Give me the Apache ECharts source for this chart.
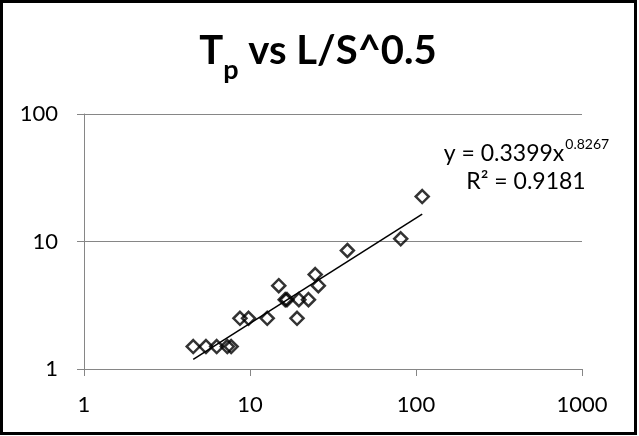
<!DOCTYPE html>
<html><head><meta charset="utf-8">
<script src="https://cdn.jsdelivr.net/npm/echarts@6/dist/echarts.min.js"></script>
<style>html,body{margin:0;padding:0;background:#fff}#c{width:639px;height:436px}</style>
</head><body><div id="c"></div>
<script>
// ---- data ----
const xValues = [4.55, 5.43, 6.3, 7.3, 7.7, 8.7, 9.8, 12.7, 19.2, 14.9, 16.3, 16.7, 19.7, 22.5, 24.7, 25.8, 38.6, 80.9, 109];
const yValues = [1.5, 1.5, 1.5, 1.5, 1.5, 2.5, 2.5, 2.5, 2.5, 4.5, 3.5, 3.5, 3.5, 3.5, 5.5, 4.5, 8.5, 10.5, 22.5];
const trendX = [4.55, 109];
const trendY = [1.19, 16.4];
const xTickLabels = ['1', '10', '100', '1000'];
const yTickLabels = ['1', '10', '100'];
const titleMain = 'T', titleSub = 'p', titleRest = ' vs L/S^0.5';
const eqMain = 'y = 0.3399x', eqSup = '0.8267', r2Text = 'R² = 0.9181';

// ---- layout helpers ----
const FONT = 'Lato';
const cv = document.createElement('canvas').getContext('2d');
function tw(text, size, weight) { cv.font = (weight || 'normal') + ' ' + size + 'px ' + FONT; return cv.measureText(text).width; }

const T_SIZE = 40, T_SUB = 27;
const wT = tw(titleMain, T_SIZE, 'bold'), wP = tw(titleSub, T_SUB, 'bold'), wR = tw(titleRest, T_SIZE, 'bold');
const titleX0 = 318 - (wT + wP + wR) / 2;

const EQ_SIZE = 23, EQ_SUP = 14;
const wEq = tw(eqMain, EQ_SIZE), wSup = tw(eqSup, EQ_SUP), wR2 = tw(r2Text, EQ_SIZE);
const eqCx = 526;
const eqX0 = eqCx - (wEq + wSup) / 2;

function txt(x, y, text, size, weight) {
  return { type: 'text', x: x, y: y, silent: true,
    style: { text: text, fontFamily: FONT, fontSize: size, fontWeight: weight || 'normal', fill: '#000', align: 'left', verticalAlign: 'middle' } };
}

const chart = echarts.init(document.getElementById('c'), null, { renderer: 'canvas' });
const axisLineColor = '#868686';
chart.setOption({
  animation: false,
  backgroundColor: '#fff',
  grid: { left: 84, right: 57, top: 114, bottom: 67, containLabel: false },
  xAxis: {
    type: 'log', logBase: 10, min: 1, max: 1000,
    axisLine: { show: true, lineStyle: { color: axisLineColor, width: 1 } },
    axisTick: { show: true, length: 7, lineStyle: { color: axisLineColor } },
    minorTick: { show: false },
    splitLine: { show: false },
    axisLabel: { margin: 25, color: '#000', fontFamily: FONT, fontSize: 22,
      formatter: function (v) { const i = Math.round(Math.log10(v)); return xTickLabels[i] || ''; } }
  },
  yAxis: {
    type: 'log', logBase: 10, min: 1, max: 100,
    axisLine: { show: true, lineStyle: { color: axisLineColor, width: 1 } },
    axisTick: { show: true, length: 7, lineStyle: { color: axisLineColor } },
    splitLine: { show: true, lineStyle: { color: axisLineColor, width: 1 } },
    axisLabel: { margin: 26, color: '#000', fontFamily: FONT, fontSize: 22,
      formatter: function (v) { const i = Math.round(Math.log10(v)); return yTickLabels[i] || ''; } }
  },
  series: [
    {
      type: 'line', data: trendX.map((x, i) => [x, trendY[i]]), symbol: 'none', silent: true,
      lineStyle: { color: '#000', width: 1.5 }, z: 3
    },
    {
      type: 'scatter', data: xValues.map((x, i) => [x, yValues[i]]), symbol: 'diamond', symbolSize: 13,
      itemStyle: { color: 'rgba(0,0,0,0)', borderColor: '#000', borderWidth: 2.5 }, z: 2
    }
  ],
  graphic: [
    { type: 'rect', shape: { x: 1.5, y: 1.5, width: 634, height: 432 }, style: { fill: 'none', stroke: '#000', lineWidth: 3 }, silent: true },
    txt(titleX0, 51, titleMain, T_SIZE, 'bold'),
    txt(titleX0 + wT, 70, titleSub, T_SUB, 'bold'),
    txt(titleX0 + wT + wP, 51, titleRest, T_SIZE, 'bold'),
    txt(eqX0, 153.5, eqMain, EQ_SIZE),
    txt(eqX0 + wEq + 1, 144.5, eqSup, EQ_SUP),
    txt(eqCx - wR2 / 2, 182, r2Text, EQ_SIZE)
  ]
});
</script></body></html>
